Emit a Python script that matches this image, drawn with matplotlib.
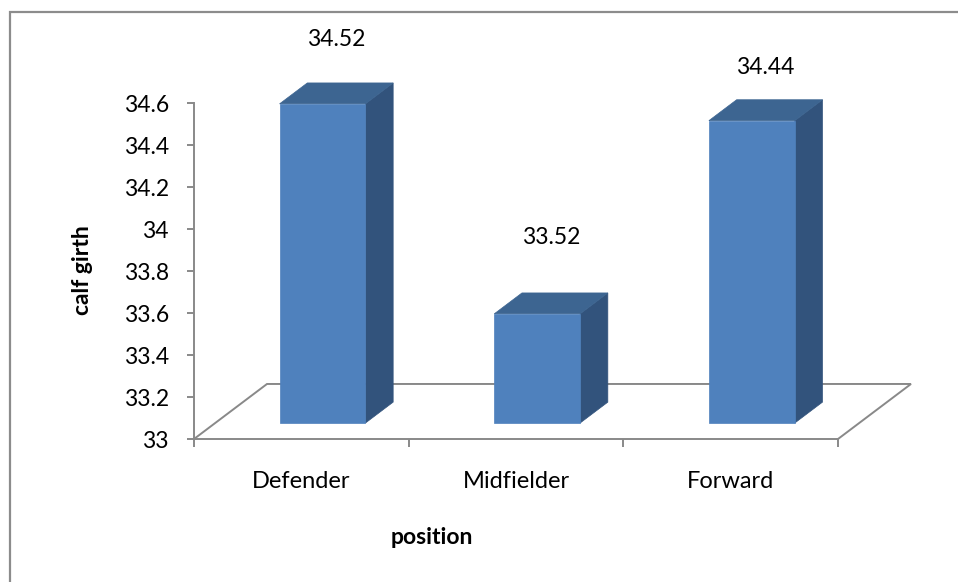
import matplotlib
matplotlib.use('Agg')
import matplotlib.pyplot as plt
from matplotlib.patches import Polygon, Rectangle

# data
positions = ["Defender", "Midfielder", "Forward"]
calf_girth = [34.52, 33.52, 34.44]
y_ticks = [33, 33.2, 33.4, 33.6, 33.8, 34, 34.2, 34.4, 34.6]
y_tick_labels = ["33", "33.2", "33.4", "33.6", "33.8", "34", "34.2", "34.4", "34.6"]

plt.rcParams['font.family'] = ['Lato', 'DejaVu Sans']

W, H = 958, 582
fig = plt.figure(figsize=(W / 100, H / 100), dpi=100)
ax = fig.add_axes([194 / W, (H - 439) / H, 644 / W, 336 / H])

YMIN, YMAX = 33, 34.6
ax.set_xlim(-0.5, len(positions) - 0.5)
ax.set_ylim(YMIN, YMAX)

# 3d look: depth of the floor in data units, bars sit in the middle of it
DEPTH_X, DEPTH_Y = 0.34, 0.262
BAR_F0, BAR_F1 = 0.29, 0.67
BAR_W = 0.40

grey = "#898989"
front_c, top_c, side_c = "#4f81bd", "#3d6591", "#32537c"
FS = 16.5

# floor (back edge + side edges)
x0, x1 = -0.5, len(positions) - 0.5
floor_x = [x0, x0 + DEPTH_X, x1 + DEPTH_X, x1]
floor_y = [YMIN, YMIN + DEPTH_Y, YMIN + DEPTH_Y, YMIN]
ax.plot(floor_x, floor_y, color=grey, lw=1.4, clip_on=False, zorder=1,
        solid_joinstyle='miter')

label_lift = [0.205, 0.265, 0.155]

for i, v in enumerate(calf_girth):
    fx0 = i - BAR_W / 2 + BAR_F0 * DEPTH_X
    fx1 = fx0 + BAR_W
    fy0 = YMIN + BAR_F0 * DEPTH_Y
    fy1 = v + BAR_F0 * DEPTH_Y
    dx = (BAR_F1 - BAR_F0) * DEPTH_X
    dy = (BAR_F1 - BAR_F0) * DEPTH_Y
    front = [(fx0, fy0), (fx1, fy0), (fx1, fy1), (fx0, fy1)]
    top = [(fx0, fy1), (fx1, fy1), (fx1 + dx, fy1 + dy), (fx0 + dx, fy1 + dy)]
    side = [(fx1, fy0), (fx1 + dx, fy0 + dy), (fx1 + dx, fy1 + dy), (fx1, fy1)]
    for pts, c in [(side, side_c), (top, top_c), (front, front_c)]:
        ax.add_patch(Polygon(pts, closed=True, facecolor=c, edgecolor=c, lw=0.5,
                             clip_on=False, zorder=3))
    ax.text(i + BAR_F0 * DEPTH_X + dx / 2, fy1 + dy + label_lift[i], f"{v:.2f}",
            ha='center', va='center', fontsize=FS, clip_on=False)

# axes styling
for s in ['top', 'right']:
    ax.spines[s].set_visible(False)
for s in ['left', 'bottom']:
    ax.spines[s].set_color(grey)
    ax.spines[s].set_linewidth(1.4)
    ax.spines[s].set_zorder(2)

ax.set_yticks(y_ticks)
ax.set_yticklabels(y_tick_labels)
ax.tick_params(axis='y', length=5, width=1.4, color=grey, pad=13, labelsize=FS)

ax.set_xticks([k - 0.5 for k in range(len(positions) + 1)])
ax.set_xticklabels([])
ax.set_xticks(range(len(positions)), minor=True)
ax.set_xticklabels(positions, minor=True)
ax.tick_params(axis='x', which='major', length=6, width=1.4, color=grey)
ax.tick_params(axis='x', which='minor', length=0, pad=23, labelsize=17)

ax.set_ylabel("calf girth", fontsize=FS, fontweight='bold')
ax.yaxis.set_label_coords(-0.157, 0.503)
ax.set_xlabel("position", fontsize=FS, fontweight='bold')
ax.xaxis.set_label_coords(0.37, -0.263)

# outer chart border
fig.patches.append(Rectangle((10 / W, -0.1), 1.2, (H - 12) / H + 0.1,
                             transform=fig.transFigure, fill=False,
                             edgecolor="#8c8c8c", lw=1.6))

fig.savefig("out.png", dpi=100)
